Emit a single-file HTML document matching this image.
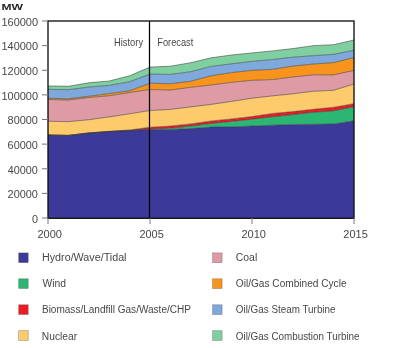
<!DOCTYPE html>
<html><head><meta charset="utf-8"><style>
html,body{margin:0;padding:0;background:#fff;}
body{width:400px;height:348px;overflow:hidden;}
svg{display:block;}
</style></head><body>
<svg width="400" height="348" viewBox="0 0 400 348">
<polygon points="48.00,135.00 68.40,135.40 88.80,133.00 109.20,131.60 129.60,130.60 150.00,129.60 170.40,129.50 190.80,128.60 211.20,127.10 231.60,126.90 252.00,126.00 272.40,125.20 292.80,124.40 313.20,124.30 333.60,124.00 354.00,120.80 354.00,218.00 333.60,218.00 313.20,218.00 292.80,218.00 272.40,218.00 252.00,218.00 231.60,218.00 211.20,218.00 190.80,218.00 170.40,218.00 150.00,218.00 129.60,218.00 109.20,218.00 88.80,218.00 68.40,218.00 48.00,218.00" fill="#3c3a99"/>
<polygon points="48.00,135.00 68.40,135.40 88.80,133.00 109.20,131.60 129.60,130.60 150.00,129.00 170.40,128.20 190.80,126.10 211.20,123.40 231.60,121.40 252.00,119.15 272.40,116.80 292.80,114.60 313.20,112.30 333.60,110.80 354.00,106.70 354.00,120.80 333.60,124.00 313.20,124.30 292.80,124.40 272.40,125.20 252.00,126.00 231.60,126.90 211.20,127.10 190.80,128.60 170.40,129.50 150.00,129.60 129.60,130.60 109.20,131.60 88.80,133.00 68.40,135.40 48.00,135.00" fill="#2bb673"/>
<polygon points="48.00,135.00 68.40,135.40 88.80,133.00 109.20,131.30 129.60,130.00 150.00,127.30 170.40,126.00 190.80,123.90 211.20,121.00 231.60,118.90 252.00,116.55 272.40,113.50 292.80,111.60 313.20,109.35 333.60,107.35 354.00,103.70 354.00,106.70 333.60,110.80 313.20,112.30 292.80,114.60 272.40,116.80 252.00,119.15 231.60,121.40 211.20,123.40 190.80,126.10 170.40,128.20 150.00,129.00 129.60,130.60 109.20,131.60 88.80,133.00 68.40,135.40 48.00,135.00" fill="#ec1c24"/>
<polygon points="48.00,121.20 68.40,121.70 88.80,119.70 109.20,116.90 129.60,113.80 150.00,110.50 170.40,109.40 190.80,106.90 211.20,104.40 231.60,101.40 252.00,98.20 272.40,95.90 292.80,93.80 313.20,91.30 333.60,90.30 354.00,84.00 354.00,103.70 333.60,107.35 313.20,109.35 292.80,111.60 272.40,113.50 252.00,116.55 231.60,118.90 211.20,121.00 190.80,123.90 170.40,126.00 150.00,127.30 129.60,130.00 109.20,131.30 88.80,133.00 68.40,135.40 48.00,135.00" fill="#fecb6c"/>
<polygon points="48.00,99.50 68.40,100.00 88.80,97.50 109.20,95.75 129.60,92.50 150.00,89.50 170.40,90.00 190.80,87.30 211.20,85.00 231.60,82.30 252.00,80.30 272.40,79.60 292.80,77.00 313.20,74.85 333.60,74.90 354.00,70.40 354.00,84.00 333.60,90.30 313.20,91.30 292.80,93.80 272.40,95.90 252.00,98.20 231.60,101.40 211.20,104.40 190.80,106.90 170.40,109.40 150.00,110.50 129.60,113.80 109.20,116.90 88.80,119.70 68.40,121.70 48.00,121.20" fill="#df9ba5"/>
<polygon points="48.00,98.25 68.40,98.75 88.80,96.25 109.20,93.60 129.60,90.75 150.00,83.25 170.40,83.75 190.80,81.25 211.20,75.75 231.60,72.60 252.00,70.30 272.40,69.40 292.80,66.10 313.20,64.00 333.60,62.60 354.00,57.50 354.00,70.40 333.60,74.90 313.20,74.85 292.80,77.00 272.40,79.60 252.00,80.30 231.60,82.30 211.20,85.00 190.80,87.30 170.40,90.00 150.00,89.50 129.60,92.50 109.20,95.75 88.80,97.50 68.40,100.00 48.00,99.50" fill="#f7941d"/>
<polygon points="48.00,89.30 68.40,89.70 88.80,87.00 109.20,85.40 129.60,81.70 150.00,74.10 170.40,74.40 190.80,71.70 211.20,66.40 231.60,63.80 252.00,61.40 272.40,59.50 292.80,57.20 313.20,55.70 333.60,54.30 354.00,50.30 354.00,57.50 333.60,62.60 313.20,64.00 292.80,66.10 272.40,69.40 252.00,70.30 231.60,72.60 211.20,75.75 190.80,81.25 170.40,83.75 150.00,83.25 129.60,90.75 109.20,93.60 88.80,96.25 68.40,98.75 48.00,98.25" fill="#7fa8dc"/>
<polygon points="48.00,85.90 68.40,86.30 88.80,82.80 109.20,81.00 129.60,75.75 150.00,67.10 170.40,66.20 190.80,62.70 211.20,57.80 231.60,55.00 252.00,52.90 272.40,50.90 292.80,48.60 313.20,45.65 333.60,44.70 354.00,40.00 354.00,50.30 333.60,54.30 313.20,55.70 292.80,57.20 272.40,59.50 252.00,61.40 231.60,63.80 211.20,66.40 190.80,71.70 170.40,74.40 150.00,74.10 129.60,81.70 109.20,85.40 88.80,87.00 68.40,89.70 48.00,89.30" fill="#7fcfa0"/>
<polyline points="48.00,135.00 68.40,135.40 88.80,133.00 109.20,131.60 129.60,130.60 150.00,129.60 170.40,129.50 190.80,128.60 211.20,127.10 231.60,126.90 252.00,126.00 272.40,125.20 292.80,124.40 313.20,124.30 333.60,124.00 354.00,120.80" fill="none" stroke="rgba(50,50,50,0.7)" stroke-width="0.75" stroke-linejoin="round"/>
<polyline points="48.00,135.00 68.40,135.40 88.80,133.00 109.20,131.60 129.60,130.60 150.00,129.00 170.40,128.20 190.80,126.10 211.20,123.40 231.60,121.40 252.00,119.15 272.40,116.80 292.80,114.60 313.20,112.30 333.60,110.80 354.00,106.70" fill="none" stroke="rgba(50,50,50,0.7)" stroke-width="0.75" stroke-linejoin="round"/>
<polyline points="48.00,135.00 68.40,135.40 88.80,133.00 109.20,131.30 129.60,130.00 150.00,127.30 170.40,126.00 190.80,123.90 211.20,121.00 231.60,118.90 252.00,116.55 272.40,113.50 292.80,111.60 313.20,109.35 333.60,107.35 354.00,103.70" fill="none" stroke="rgba(50,50,50,0.7)" stroke-width="0.75" stroke-linejoin="round"/>
<polyline points="48.00,121.20 68.40,121.70 88.80,119.70 109.20,116.90 129.60,113.80 150.00,110.50 170.40,109.40 190.80,106.90 211.20,104.40 231.60,101.40 252.00,98.20 272.40,95.90 292.80,93.80 313.20,91.30 333.60,90.30 354.00,84.00" fill="none" stroke="rgba(50,50,50,0.7)" stroke-width="0.75" stroke-linejoin="round"/>
<polyline points="48.00,99.50 68.40,100.00 88.80,97.50 109.20,95.75 129.60,92.50 150.00,89.50 170.40,90.00 190.80,87.30 211.20,85.00 231.60,82.30 252.00,80.30 272.40,79.60 292.80,77.00 313.20,74.85 333.60,74.90 354.00,70.40" fill="none" stroke="rgba(50,50,50,0.7)" stroke-width="0.75" stroke-linejoin="round"/>
<polyline points="48.00,98.25 68.40,98.75 88.80,96.25 109.20,93.60 129.60,90.75 150.00,83.25 170.40,83.75 190.80,81.25 211.20,75.75 231.60,72.60 252.00,70.30 272.40,69.40 292.80,66.10 313.20,64.00 333.60,62.60 354.00,57.50" fill="none" stroke="rgba(50,50,50,0.7)" stroke-width="0.75" stroke-linejoin="round"/>
<polyline points="48.00,89.30 68.40,89.70 88.80,87.00 109.20,85.40 129.60,81.70 150.00,74.10 170.40,74.40 190.80,71.70 211.20,66.40 231.60,63.80 252.00,61.40 272.40,59.50 292.80,57.20 313.20,55.70 333.60,54.30 354.00,50.30" fill="none" stroke="rgba(50,50,50,0.7)" stroke-width="0.75" stroke-linejoin="round"/>
<polyline points="48.00,85.90 68.40,86.30 88.80,82.80 109.20,81.00 129.60,75.75 150.00,67.10 170.40,66.20 190.80,62.70 211.20,57.80 231.60,55.00 252.00,52.90 272.40,50.90 292.80,48.60 313.20,45.65 333.60,44.70 354.00,40.00" fill="none" stroke="rgba(50,50,50,0.7)" stroke-width="0.75" stroke-linejoin="round"/>
<rect x="48" y="21" width="306" height="197.3" fill="none" stroke="#111" stroke-width="1.35"/>
<line x1="149.5" y1="21" x2="149.5" y2="218" stroke="#000" stroke-width="1.25"/>
<line x1="42" y1="21.00" x2="48" y2="21.00" stroke="#777" stroke-width="1"/>
<line x1="42" y1="45.62" x2="48" y2="45.62" stroke="#777" stroke-width="1"/>
<line x1="42" y1="70.25" x2="48" y2="70.25" stroke="#777" stroke-width="1"/>
<line x1="42" y1="94.88" x2="48" y2="94.88" stroke="#777" stroke-width="1"/>
<line x1="42" y1="119.50" x2="48" y2="119.50" stroke="#777" stroke-width="1"/>
<line x1="42" y1="144.12" x2="48" y2="144.12" stroke="#777" stroke-width="1"/>
<line x1="42" y1="168.75" x2="48" y2="168.75" stroke="#777" stroke-width="1"/>
<line x1="42" y1="193.38" x2="48" y2="193.38" stroke="#777" stroke-width="1"/>
<line x1="42" y1="218.00" x2="48" y2="218.00" stroke="#777" stroke-width="1"/>
<line x1="48.0" y1="218" x2="48.0" y2="224" stroke="#777" stroke-width="1"/>
<line x1="150.0" y1="218" x2="150.0" y2="224" stroke="#777" stroke-width="1"/>
<line x1="252.0" y1="218" x2="252.0" y2="224" stroke="#777" stroke-width="1"/>
<line x1="354.0" y1="218" x2="354.0" y2="224" stroke="#777" stroke-width="1"/>
<rect x="18.70" y="252.90" width="9.50" height="9.70" fill="#3c3a99" stroke="rgba(60,60,60,0.5)" stroke-width="0.6"/>
<rect x="18.70" y="278.80" width="9.50" height="9.70" fill="#2bb673" stroke="rgba(60,60,60,0.5)" stroke-width="0.6"/>
<rect x="18.70" y="304.80" width="9.50" height="9.70" fill="#ec1c24" stroke="rgba(60,60,60,0.5)" stroke-width="0.6"/>
<rect x="18.70" y="330.70" width="9.50" height="9.70" fill="#fecb6c" stroke="rgba(60,60,60,0.5)" stroke-width="0.6"/>
<rect x="212.60" y="252.90" width="9.50" height="9.70" fill="#df9ba5" stroke="rgba(60,60,60,0.5)" stroke-width="0.6"/>
<rect x="212.60" y="278.80" width="9.50" height="9.70" fill="#f7941d" stroke="rgba(60,60,60,0.5)" stroke-width="0.6"/>
<rect x="212.60" y="304.80" width="9.50" height="9.70" fill="#7fa8dc" stroke="rgba(60,60,60,0.5)" stroke-width="0.6"/>
<rect x="212.60" y="330.70" width="9.50" height="9.70" fill="#7fcfa0" stroke="rgba(60,60,60,0.5)" stroke-width="0.6"/>
<g style="will-change:transform">
<text x="1.50" y="9.70" font-family="Liberation Sans, sans-serif" font-size="9.90" font-weight="bold" fill="#231f20" textLength="21.50" lengthAdjust="spacingAndGlyphs">MW</text>
<text x="1.50" y="25.80" font-family="Liberation Sans, sans-serif" font-size="10.36" fill="#474747" textLength="36.50" lengthAdjust="spacingAndGlyphs">160000</text>
<text x="1.50" y="50.42" font-family="Liberation Sans, sans-serif" font-size="10.36" fill="#474747" textLength="36.50" lengthAdjust="spacingAndGlyphs">140000</text>
<text x="1.50" y="75.05" font-family="Liberation Sans, sans-serif" font-size="10.36" fill="#474747" textLength="36.50" lengthAdjust="spacingAndGlyphs">120000</text>
<text x="1.50" y="99.67" font-family="Liberation Sans, sans-serif" font-size="10.36" fill="#474747" textLength="36.50" lengthAdjust="spacingAndGlyphs">100000</text>
<text x="7.60" y="124.30" font-family="Liberation Sans, sans-serif" font-size="10.36" fill="#474747" textLength="30.25" lengthAdjust="spacingAndGlyphs">80000</text>
<text x="7.60" y="148.93" font-family="Liberation Sans, sans-serif" font-size="10.36" fill="#474747" textLength="30.25" lengthAdjust="spacingAndGlyphs">60000</text>
<text x="7.85" y="173.55" font-family="Liberation Sans, sans-serif" font-size="10.36" fill="#474747" textLength="30.00" lengthAdjust="spacingAndGlyphs">40000</text>
<text x="7.60" y="198.18" font-family="Liberation Sans, sans-serif" font-size="10.36" fill="#474747" textLength="30.25" lengthAdjust="spacingAndGlyphs">20000</text>
<text x="32.00" y="222.80" font-family="Liberation Sans, sans-serif" font-size="10.36" fill="#474747" textLength="6.00" lengthAdjust="spacingAndGlyphs">0</text>
<text x="37.50" y="238.10" font-family="Liberation Sans, sans-serif" font-size="10.65" fill="#474747" textLength="24.50" lengthAdjust="spacingAndGlyphs">2000</text>
<text x="139.50" y="238.10" font-family="Liberation Sans, sans-serif" font-size="10.65" fill="#474747" textLength="24.25" lengthAdjust="spacingAndGlyphs">2005</text>
<text x="241.50" y="238.10" font-family="Liberation Sans, sans-serif" font-size="10.65" fill="#474747" textLength="24.50" lengthAdjust="spacingAndGlyphs">2010</text>
<text x="343.30" y="238.10" font-family="Liberation Sans, sans-serif" font-size="10.65" fill="#474747" textLength="24.50" lengthAdjust="spacingAndGlyphs">2015</text>
<text x="114.05" y="45.50" font-family="Liberation Sans, sans-serif" font-size="10.43" fill="#474747" textLength="29.00" lengthAdjust="spacingAndGlyphs">History</text>
<text x="157.25" y="45.50" font-family="Liberation Sans, sans-serif" font-size="10.43" fill="#474747" textLength="36.00" lengthAdjust="spacingAndGlyphs">Forecast</text>
<text x="42.00" y="260.90" font-family="Liberation Sans, sans-serif" font-size="10.58" fill="#474747" textLength="84.50" lengthAdjust="spacingAndGlyphs">Hydro/Wave/Tidal</text>
<text x="42.60" y="287.10" font-family="Liberation Sans, sans-serif" font-size="10.58" fill="#474747" textLength="23.50" lengthAdjust="spacingAndGlyphs">Wind</text>
<text x="41.95" y="313.30" font-family="Liberation Sans, sans-serif" font-size="10.58" fill="#474747" textLength="149.00" lengthAdjust="spacingAndGlyphs">Biomass/Landfill Gas/Waste/CHP</text>
<text x="41.85" y="339.50" font-family="Liberation Sans, sans-serif" font-size="10.58" fill="#474747" textLength="35.25" lengthAdjust="spacingAndGlyphs">Nuclear</text>
<text x="235.75" y="260.90" font-family="Liberation Sans, sans-serif" font-size="10.58" fill="#474747" textLength="21.50" lengthAdjust="spacingAndGlyphs">Coal</text>
<text x="235.80" y="287.10" font-family="Liberation Sans, sans-serif" font-size="10.58" fill="#474747" textLength="110.75" lengthAdjust="spacingAndGlyphs">Oil/Gas Combined Cycle</text>
<text x="235.80" y="313.30" font-family="Liberation Sans, sans-serif" font-size="10.58" fill="#474747" textLength="99.75" lengthAdjust="spacingAndGlyphs">Oil/Gas Steam Turbine</text>
<text x="235.80" y="339.50" font-family="Liberation Sans, sans-serif" font-size="10.58" fill="#474747" textLength="123.75" lengthAdjust="spacingAndGlyphs">Oil/Gas Combustion Turbine</text>
</g>
</svg>
</body></html>
